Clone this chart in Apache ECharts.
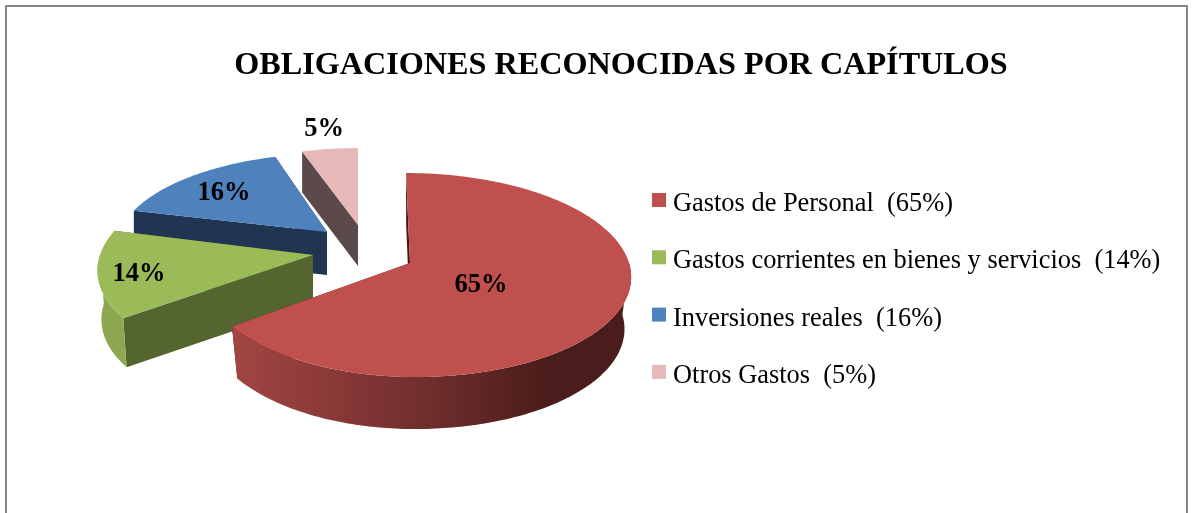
<!DOCTYPE html>
<html lang="es">
<head>
    <meta charset="UTF-8">
    <title>Obligaciones reconocidas por capítulos</title>
    <script src="https://cdn.jsdelivr.net/npm/echarts@6/dist/echarts.min.js"></script>
    <style>
        html, body { margin: 0; padding: 0; background: #fff; }
        #main { width: 1192px; height: 513px; }
    </style>
</head>
<body>
    <div id="main"></div>
    <script type="text/javascript">
        // data
        const titleText = 'OBLIGACIONES RECONOCIDAS POR CAPÍTULOS';
        const categories = ['Gastos de Personal', 'Gastos corrientes en bienes y servicios', 'Inversiones reales', 'Otros Gastos'];
        const percents = [65, 14, 16, 5];

        const topColors = ['#C0504D', '#9BBB59', '#4F81BD', '#E6B9B8'];
        const edgeColors = ['#4a1616', '#55652f', '#1f3552', '#5b4a49'];

        // pie 3D hecho a mano: cada porcion explotada tiene su propia proyeccion
        const PERSPECTIVE = 0.118;
        const shapes = [
            { cx: 410, cy: 263, rxL: 208, rxR: 219, ry: 100.6, skew: 0.044, wall: 52, taper: 0.03, label: [481, 285],
              arc: ['#a34543', '#6e2e2c', '#4a1c1b'] },
            { cx: 313, cy: 255, rxL: 213, rxR: 213, ry: 100, skew: -0.073, wall: 49, taper: 0.018, label: [139, 274],
              arc: ['#8dA850', '#8dA850', '#8dA850'] },
            { cx: 327, cy: 232, rxL: 207, rxR: 207, ry: 88, skew: -0.0755, wall: 43, taper: 0, label: [224, 193] },
            { cx: 358, cy: 225, rxL: 201, rxR: 201, ry: 86, skew: 0, wall: 41, taper: 0, label: [324, 129] }
        ];

        const total = percents.reduce((a, b) => a + b, 0);

        // angulo en grados desde las 12, sentido horario
        function project(sh, deg) {
            const t = deg * Math.PI / 180;
            const d = -Math.cos(t);
            const sinT = Math.sin(t);
            const s = 1 / (1 - PERSPECTIVE * d);
            const y = sh.cy + sh.ry * d * s;
            const x = sh.cx + (sinT < 0 ? sh.rxL : sh.rxR) * sinT * s + sh.skew * (y - sh.cy);
            return [x, y];
        }

        function dropped(sh, p) {
            return [p[0] - (p[0] - sh.cx) * sh.taper, p[1] + sh.wall];
        }

        function arcPoints(sh, from, to) {
            const pts = [];
            const n = Math.max(2, Math.ceil(Math.abs(to - from)));
            for (let i = 0; i <= n; i++) {
                pts.push(project(sh, from + (to - from) * i / n));
            }
            return pts;
        }

        function polygon(points, fill) {
            return { type: 'polygon', shape: { points: points }, style: { fill: fill } };
        }

        function makeRenderItem(idx) {
            return function (params, api) {
                const sh = shapes[idx];
                const before = percents.slice(0, idx).reduce((a, b) => a + b, 0);
                const from = before / total * 360;
                const to = from + api.value(0) / total * 360;
                const apex = [sh.cx, sh.cy];
                const children = [];

                // paredes de los dos cortes, la cara superior tapa lo que no se ve
                [from, to].forEach(function (ang) {
                    const p = project(sh, ang);
                    children.push(polygon([apex, p, dropped(sh, p), dropped(sh, apex)], edgeColors[idx]));
                });

                // pared curva, solo la parte de delante
                const a0 = Math.max(from, 90);
                const a1 = Math.min(to, 270);
                if (sh.arc && a1 > a0) {
                    const outer = arcPoints(sh, a0, a1);
                    const lower = outer.map(p => dropped(sh, p)).reverse();
                    children.push(polygon(outer.concat(lower), new echarts.graphic.LinearGradient(0, 0, 1, 0, [
                        { offset: 0, color: sh.arc[0] },
                        { offset: 0.5, color: sh.arc[1] },
                        { offset: 0.8, color: sh.arc[2] },
                        { offset: 1, color: sh.arc[2] }
                    ])));
                }

                children.push(polygon([apex].concat(arcPoints(sh, from, to)), topColors[idx]));

                children.push({
                    type: 'text',
                    z2: 10,
                    style: {
                        x: sh.label[0],
                        y: sh.label[1],
                        text: api.value(0) + '%',
                        align: 'center',
                        verticalAlign: 'middle',
                        fill: '#000',
                        font: 'bold 26.5px "Liberation Serif"'
                    }
                });
                return { type: 'group', children: children };
            };
        }

        const legendNames = categories.map((c, i) => c + '  (' + percents[i] + '%)');

        // se pintan de atras hacia delante
        const series = [3, 2, 1, 0].map(function (i) {
            return {
                type: 'custom',
                name: legendNames[i],
                coordinateSystem: 'none',
                silent: true,
                itemStyle: { color: topColors[i] },
                renderItem: makeRenderItem(i),
                data: [[percents[i]]]
            };
        });

        const legendFont = { fontFamily: 'Liberation Serif', fontSize: 26.4, color: '#000' };

        const myChart = echarts.init(document.getElementById('main'));
        myChart.setOption({
            animation: false,
            backgroundColor: '#fff',
            title: {
                text: titleText,
                left: 616,
                top: 45,
                textAlign: 'center',
                textStyle: { fontFamily: 'Liberation Serif', fontWeight: 'bold', fontSize: 32.2, color: '#000' }
            },
            legend: {
                orient: 'vertical',
                left: 647,
                top: 186,
                itemWidth: 14,
                itemHeight: 14,
                itemGap: 31.3,
                icon: 'rect',
                data: legendNames,
                selectedMode: false,
                // el texto va unos px mas bajo que el cuadrado
                formatter: name => '{t|' + name + '}',
                textStyle: Object.assign({ rich: { t: Object.assign({ padding: [8, 0, 0, 2] }, legendFont) } }, legendFont)
            },
            graphic: [{
                type: 'rect',
                shape: { x: 6, y: 6, width: 1181, height: 620 },
                style: { fill: 'none', stroke: '#868686', lineWidth: 2 },
                silent: true
            }],
            series: series
        });
    </script>
</body>
</html>
